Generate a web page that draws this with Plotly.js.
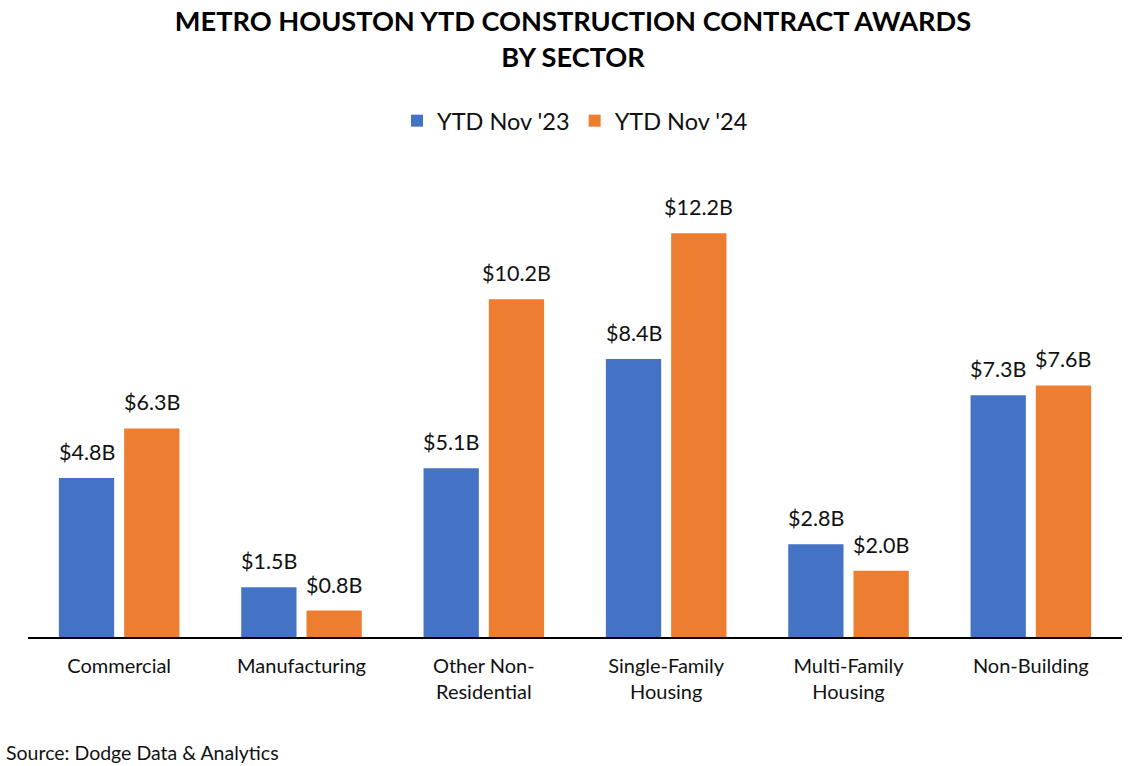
<!DOCTYPE html>
<html><head><meta charset="utf-8">
<script src="https://cdn.plot.ly/plotly-3.0.1.min.js"></script>
<style>body{margin:0;background:#fff}#c{width:1146px;height:766px}</style>
</head><body><div id="c"></div>
<script>
const categories = ["Commercial", "Manufacturing", "Other Non-<br>Residential", "Single-Family<br>Housing", "Multi-Family<br>Housing", "Non-Building"];
const seriesNames = ["YTD Nov '23", "YTD Nov '24"];
const ytd23 = [4.8, 1.5, 5.1, 8.4, 2.8, 7.3];
const ytd24 = [6.3, 0.8, 10.2, 12.2, 2.0, 7.6];
const FONT = "Lato, 'Noto Sans', sans-serif";
const fmt = v => "$" + v.toFixed(1) + "B";
const mk = (vals, name, color) => ({
  type: "bar", x: categories, y: vals, name: name,
  marker: {color: color}, hoverinfo: "skip"
});
const data = [mk(ytd23, seriesNames[0], "#4472C4"), mk(ytd24, seriesNames[1], "#ED7D31")];
const labelAnn = (vals, side) => vals.map((v, i) => ({
  x: categories[i], y: v, xref: "x", yref: "y", text: fmt(v), showarrow: false,
  xanchor: "center", yanchor: "bottom", xshift: side * 32.6, yshift: 11,
  font: {family: FONT, size: 21.5, color: "#111"}
}));
const layout = {
  width: 1146, height: 766,
  margin: {l: 28, r: 24, t: 160, b: 129},
  paper_bgcolor: "#fff", plot_bgcolor: "#fff",
  font: {family: FONT, color: "#111"},
  title: {text: "<b>METRO HOUSTON YTD CONSTRUCTION CONTRACT AWARDS<br>BY SECTOR</b>",
    x: 0.5, xanchor: "center", y: 0.959, yanchor: "middle",
    font: {family: FONT, size: 27.2, color: "#000"}},
  barmode: "group", bargap: 0.284, bargroupgap: 0.153,
  showlegend: true,
  legend: {orientation: "h", x: 0.5, xanchor: "center", y: 1.082, yanchor: "middle",
    font: {family: FONT, size: 23.5, color: "#111"}, itemwidth: 30, traceorder: "normal"},
  xaxis: {showline: true, linecolor: "#000", linewidth: 2, ticks: "", showgrid: false,
    ticklabelstandoff: 10,
    tickfont: {family: FONT, size: 20, color: "#111"}, fixedrange: true},
  yaxis: {range: [0, 14.41], visible: false, showgrid: false, zeroline: false, fixedrange: true},
  annotations: labelAnn(ytd23, -1).concat(labelAnn(ytd24, 1)).concat([
    {text: "Source: Dodge Data &amp; Analytics", xref: "paper", yref: "paper",
    x: 0, xshift: -24, y: 0, yshift: -115, xanchor: "left", yanchor: "middle", showarrow: false,
    font: {family: FONT, size: 19.5, color: "#111"}}])
};
Plotly.newPlot("c", data, layout, {displayModeBar: false, staticPlot: true});
</script></body></html>
